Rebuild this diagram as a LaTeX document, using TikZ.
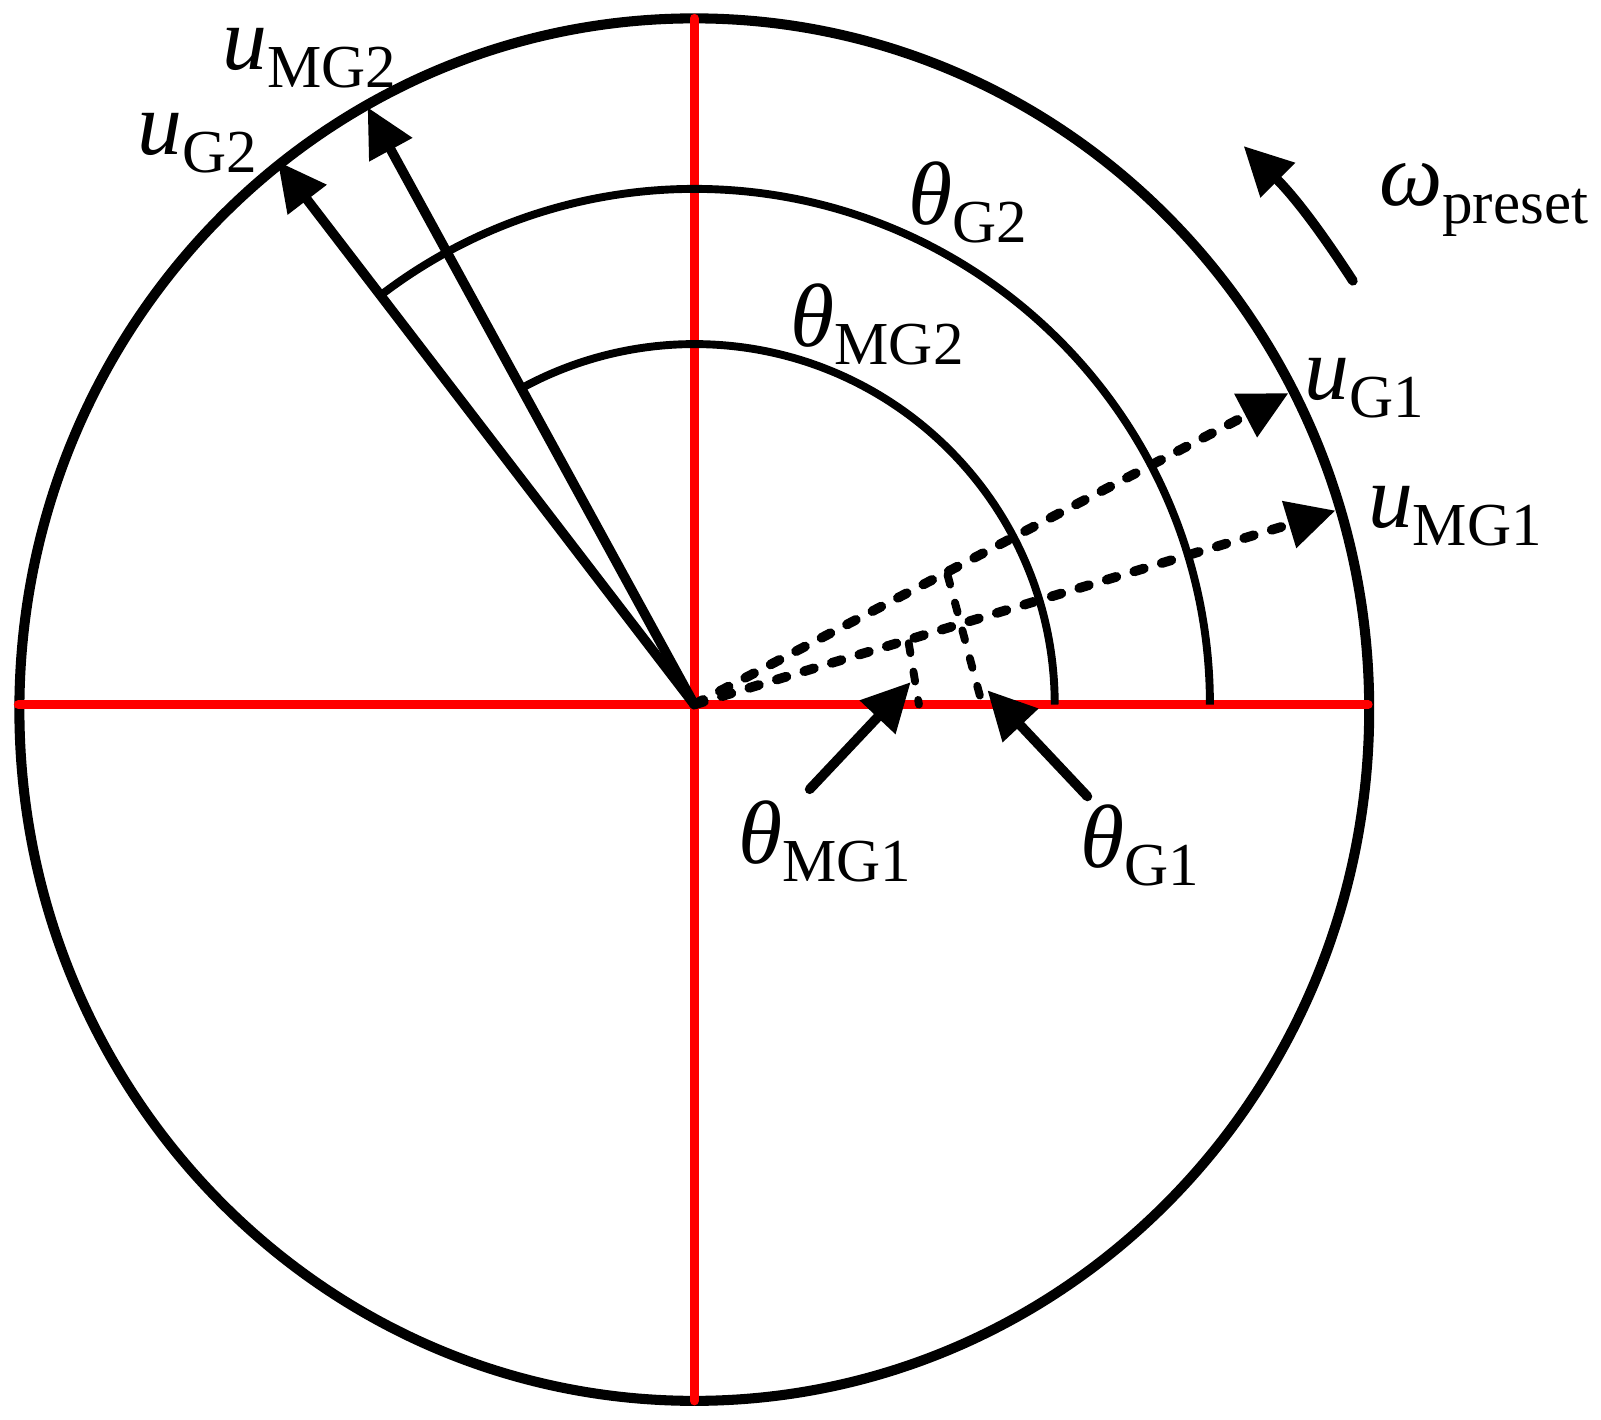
\documentclass[tikz,border=0pt]{standalone}
\usepackage{fontspec}
\setmainfont{Liberation Serif}
\usetikzlibrary{arrows.meta,calc}
\tikzstyle{axis}=[draw=red, line width=2.5pt, line cap=round]
\tikzstyle{rim}=[draw=black, line width=2.8pt]
\tikzstyle{angarc}=[draw=black, line width=2.2pt]
\tikzstyle{vec}=[line width=2.7pt, line cap=round, -{Triangle[length=13.5pt,width=13pt]}]
\tikzstyle{dvec}=[vec, dash pattern=on 2.8pt off 5.2pt]
\tikzstyle{proj}=[line width=2.2pt, line cap=round, dash pattern=on 2.8pt off 5.2pt]
\tikzstyle{lab}=[inner sep=0pt, font=\fontsize{25}{25}\selectfont]
\newcommand{\symb}[2]{\textit{#1}\raisebox{-5pt}{\fontsize{17}{17}\selectfont #2}}

\begin{document}
\begin{tikzpicture}[x=0.01cm, y=0.01cm]
    \useasboundingbox (-680,-700) rectangle (888,690);
    % rim and axes
    \draw[rim] (0,-5) ellipse [x radius=661, y radius=677];
    \coordinate (O) at (0,0);
    \coordinate (left) at (-662,0);
    \coordinate (right) at (660,0);
    \coordinate (top) at (0,672);
    \coordinate (bottom) at (0,-682);
    \draw[axis] (left) -- (right);
    \draw[axis] (top) -- (bottom);
    % angle arcs
    \draw[angarc] (353,0) arc[start angle=0, end angle=118.7, radius=353];
    \draw[angarc] (505,0) arc[start angle=0, end angle=127.5, radius=505];
    % voltage vectors
    \coordinate (uG2) at (-408,532);
    \coordinate (uMG2) at (-320,585);
    \coordinate (uG1) at (582,305);
    \coordinate (uMG1) at (628,190);
    \draw[vec] (O) -- (uG2);
    \draw[vec] (O) -- (uMG2);
    \draw[dvec] (O) -- (uG1);
    \draw[dvec] (O) -- (uMG1);
    % projections
    \coordinate (pG1) at (248,127);
    \coordinate (fG1) at (282,0);
    \coordinate (pMG1) at (210,60);
    \coordinate (fMG1) at (220,0);
    \draw[proj] (pG1) -- (fG1);
    \draw[proj] (pMG1) -- (fMG1);
    % labels
    \node[lab] (luMG2) at (-377,633) {\symb{u}{MG2}};
    \node[lab] (luG2) at (-487,550) {\symb{u}{G2}};
    \node[lab] (luG1) at (656,310) {\symb{u}{G1}};
    \node[lab] (luMG1) at (745,184) {\symb{u}{MG1}};
    \node[lab] (ltG2) at (268,492) {\symb{θ}{G2}};
    \node[lab] (ltMG2) at (179,372) {\symb{θ}{MG2}};
    \node[lab] (ltMG1) at (128,-134) {\symb{θ}{MG1}};
    \node[lab] (ltG1) at (436,-138) {\symb{θ}{G1}};
    \node[lab] (lw) at (773,494) {\symb{ω}{preset}};
    % pointers
    \coordinate (aMG1) at (113,-83);
    \coordinate (tMG1) at (212,22);
    \coordinate (aG1) at (385,-90);
    \coordinate (tG1) at (287,14);
    \draw[vec] (aMG1) -- (tMG1);
    \draw[vec] (aG1) -- (tG1);
    \coordinate (w1) at (645,415);
    \coordinate (w2) at (538,547);
    \draw[vec] (w1) to[bend right=6] (w2);
\end{tikzpicture}
\end{document}
